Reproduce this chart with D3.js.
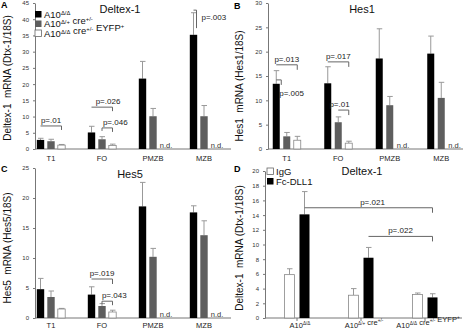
<!DOCTYPE html>
<html>
<head lang="en">
<meta charset="UTF-8">
<title></title>
<script src="https://cdn.jsdelivr.net/npm/d3@7/dist/d3.min.js"></script>
<style>
  body{margin:0;background:#fff;}
  text{font-family:"Liberation Sans",Arial,sans-serif;}
</style>
</head>
<body>
<script>
// categories
var cells = ["T1", "FO", "PMZB", "MZB"];
var dllGroups = [
    [["A10", "Δ/Δ"]],
    [["A10", "Δ/+"], [" cre", "+/-"]],
    [["A10", "Δ/Δ"], [" cre", "+/-"], [" EYFP", "+"]]
];
// legend labels
var genoLegend = dllGroups.map(function(d, i){ return i == 1 ? [["A10", "Δ/+"], [" cre", "+/-"]] : d; });
var dllLegend = [[["IgG", ""]], [["Fc-DLL1", ""]]];

// values: [black, grey, white] per cell, null = n.d.
var dtxMean = [[2.8, 2.4, 1.2], [5.1, 3.0, 1.1], [21.7, 10.1, null], [35.2, 10.1, null]];
var dtxErr  = [[3.3, 3.0, 1.4], [7.0, 3.8, 1.5], [27.0, 12.5, null], [42.0, 13.4, null]];
var hes1Mean = [[13.4, 2.6, 1.8], [13.5, 5.5, 1.2], [18.6, 9.0, null], [19.6, 10.5, null]];
var hes1Err  = [[16.1, 3.4, 2.6], [16.9, 6.6, 1.6], [24.7, 10.8, null], [23.2, 13.7, null]];
var hes5Mean = [[4.8, 3.5, 1.5], [3.9, 2.0, 1.0], [18.6, 10.2, null], [17.6, 13.8, null]];
var hes5Err  = [[6.6, 4.5, 1.6], [5.2, 2.4, 1.3], [22.6, 11.6, null], [18.7, 16.2, null]];
// panel D: [IgG, Fc-DLL1]
var dllMean = [[5.9, 14.1], [3.1, 8.2], [3.2, 2.8]];
var dllErr  = [[6.7, 17.2], [4.0, 9.6], [3.4, 3.3]];

// significance: [group1, bar1, group2, bar2, value, label]
var sigA = [[0,0,0,2,7.1,"p=.01"], [1,0,1,2,12.9,"p=.026"], [1,1,1,2,6.5,"p=.046"], [3,0,3,0,42.8,"p=.003"]];
var sigB = [[0,0,0,2,17.3,"p=.013"], [0,0,0,0,14.2,"p=.005"], [1,0,1,2,17.9,"p=.017"], [1,1,1,2,8.0,"p=.01"]];
var sigC = [[1,0,1,2,6.5,"p=.019"], [1,1,1,2,2.8,"p=.043"]];
var sigD = [[0,1,2,1,15.0,"p=.021"], [1,1,2,1,11.1,"p=.022"]];

var svg = d3.select("body").append("svg")
    .attr("width", 464)
    .attr("height", 331);

function richText(sel, parts){
    parts.forEach(function(p){
        sel.append("tspan").text(p[0]);
        if(p[1]){
            sel.append("tspan").attr("dy", -3).style("font-size", "0.62em").text(p[1]);
            sel.append("tspan").attr("dy", 3).text("");
        }
    });
}

function drawPanel(o){
    var g = svg.append("g");
    var x = d3.scaleBand().domain(d3.range(o.cats.length)).range(o.xr);
    var inner = d3.scaleBand().domain(d3.range(o.nb))
        .range([-o.step * o.nb / 2, o.step * o.nb / 2])
        .paddingInner(1 - o.bw / o.step).paddingOuter((1 - o.bw / o.step) / 2);
    var y = d3.scaleLinear().domain([0, o.ymax]).range([o.y0, o.y1]);
    var bx = function(gi, bi){ return x(gi) + x.bandwidth() / 2 + inner(bi); };

    // y axis
    var ya = g.append("g").attr("transform", "translate(" + o.ax + ",0)")
        .call(d3.axisLeft(y).tickValues(d3.range(0, o.ymax + 0.01, o.ystep)).tickSize(2).tickSizeOuter(0));
    ya.selectAll("text").style("font-size", "6px").attr("fill", "#333").attr("dx", "-1");
    ya.selectAll("line,path").attr("stroke", "#777");
    // baseline + ticks
    g.append("line").attr("x1", o.ax).attr("x2", o.axEnd).attr("y1", o.y0).attr("y2", o.y0)
        .attr("stroke", "#777");
    var xa = g.append("g").attr("transform", "translate(0," + o.y0 + ")")
        .call(d3.axisBottom(x).tickSize(o.xtick).tickSizeOuter(0).tickFormat(""));
    xa.select(".domain").remove();
    xa.selectAll("line").attr("stroke", "#777");

    // category labels
    o.cats.forEach(function(c, i){
        var t = g.append("text").attr("x", x(i) + x.bandwidth() / 2 + (o.labDx || 0)).attr("y", o.y0 + o.labY)
            .attr("text-anchor", "middle").style("font-size", "7.5px").attr("fill", "#222");
        if(typeof c == "string") t.text(c); else richText(t, c);
    });

    // bars
    o.means.forEach(function(row, gi){
        row.forEach(function(v, bi){
            var xx = bx(gi, bi);
            if(v === null){
                g.append("text").attr("x", xx).attr("y", o.y0 - 1).style("font-size", "7.5px")
                    .attr("fill", "#333").text("n.d.");
                return;
            }
            var e = o.errs[gi][bi];
            g.append("line").attr("x1", xx + inner.bandwidth() / 2).attr("x2", xx + inner.bandwidth() / 2)
                .attr("y1", y(v)).attr("y2", y(e)).attr("stroke", "#999");
            g.append("line").attr("x1", xx + inner.bandwidth() / 2 - 2.5).attr("x2", xx + inner.bandwidth() / 2 + 3)
                .attr("y1", y(e)).attr("y2", y(e)).attr("stroke", "#999");
            g.append("rect").attr("x", xx).attr("y", y(v))
                .attr("width", inner.bandwidth()).attr("height", o.y0 - y(v))
                .attr("fill", o.colors[bi])
                .attr("stroke", o.colors[bi] == "#fff" ? "#888" : "none")
                .attr("stroke-width", 0.8);
        });
    });

    // significance brackets
    o.sig.forEach(function(s, k){
        var x1 = bx(s[0], s[1]) + inner.bandwidth() / 2;
        var x2 = bx(s[2], s[3]) + inner.bandwidth() / 2;
        var st = o.sigStyle[k];
        if(st.x2) x2 += st.x2;
        var yy = y(s[4]);
        g.append("path")
            .attr("d", "M" + x1 + "," + (yy + (st.ldrop || 0)) + "V" + yy + "H" + x2 + "V" + (yy + st.drop))
            .attr("fill", "none").attr("stroke", "#666").attr("stroke-width", 1);
        g.append("text").attr("x", (st.anchor == "start" ? x2 : (x1 + x2) / 2) + (st.dx || 0))
            .attr("y", yy - 3 + (st.dy || 0))
            .attr("text-anchor", st.anchor || "middle")
            .style("font-size", "8px").attr("fill", "#222").text(s[5]);
    });

    // titles
    g.append("text").attr("x", o.lx).attr("y", o.ly).style("font-size", "9px")
        .style("font-weight", "bold").text(o.letter);
    g.append("text").attr("x", o.tx).attr("y", o.ty).attr("text-anchor", "middle")
        .style("font-size", "11px").attr("fill", "#111").text(o.title);
    g.append("text").attr("transform", "translate(" + o.ylx + "," + o.yly + ") rotate(-90)")
        .attr("text-anchor", "middle").style("font-size", "10px").style("white-space", "pre")
        .attr("fill", "#111").text(o.ylab);

    // legend
    if(o.legend){
        o.legend.forEach(function(l, i){
            var ly = o.legY + i * o.legStep;
            g.append("rect").attr("x", o.legX).attr("y", ly - 6).attr("width", 6.5).attr("height", 6.5)
                .attr("fill", o.legColors[i]).attr("stroke", o.legColors[i] == "#fff" ? "#666" : "none")
                .attr("stroke-width", 0.8);
            var t = g.append("text").attr("x", o.legX + 9).attr("y", ly + 0.5)
                .style("font-size", "9.5px").attr("fill", "#111");
            richText(t, l);
        });
    }
}

var geneColors = ["#000", "#5e5e5e", "#fff"];

drawPanel({letter: "A", lx: 1, ly: 8, title: "Deltex-1", tx: 120, ty: 13,
    ylab: "Deltex-1  mRNA (Dtx-1/18S)", ylx: 11, yly: 78,
    cats: cells, xr: [25.5, 229.5], nb: 3, step: 10.5, bw: 7.4, xtick: 0, labY: 12,
    ax: 35, axEnd: 231, y0: 149, y1: 3, ymax: 45, ystep: 5,
    means: dtxMean, errs: dtxErr, colors: geneColors, sig: sigA,
    sigStyle: [{drop: 4}, {drop: 4, dx: 6}, {drop: 4, ldrop: 3, dx: 8}, {drop: 18, x2: 3, anchor: "start", dx: 5, dy: 13}],
    legend: genoLegend, legColors: geneColors, legX: 35, legY: 17, legStep: 9.5});

drawPanel({letter: "B", lx: 234, ly: 9, title: "Hes1", tx: 362, ty: 13,
    ylab: "Hes1  mRNA (Hes1/18S)", ylx: 243, yly: 86,
    cats: cells, xr: [261, 467], nb: 3, step: 10.5, bw: 7, xtick: 0, labY: 12,
    ax: 268, axEnd: 463, y0: 149, y1: 3, ymax: 30, ystep: 5,
    means: hes1Mean, errs: hes1Err, colors: geneColors, sig: sigB,
    sigStyle: [{drop: 5}, {drop: 5, x2: 5, anchor: "start", dx: -2, dy: 19}, {drop: 5}, {drop: 5, dx: -4}]});

drawPanel({letter: "C", lx: 1, ly: 172, title: "Hes5", tx: 130, ty: 178,
    ylab: "Hes5  mRNA (Hes5/18S)", ylx: 11, yly: 248,
    cats: cells, xr: [25.5, 229.5], nb: 3, step: 10.5, bw: 7.4, xtick: 0, labY: 10,
    ax: 35, axEnd: 231, y0: 318, y1: 168, ymax: 25, ystep: 5,
    means: hes5Mean, errs: hes5Err, colors: geneColors, sig: sigC,
    sigStyle: [{drop: 5}, {drop: 4, ldrop: 3, dx: 7}]});

drawPanel({letter: "D", lx: 234, ly: 172, title: "Deltex-1", tx: 362, ty: 175,
    ylab: "Deltex-1  mRNA (Dtx-1/18S)", ylx: 243, yly: 248,
    cats: dllGroups, xr: [265, 457], nb: 2, step: 15, bw: 10, xtick: 3, labDx: 3, labY: 10,
    ax: 265, axEnd: 462, y0: 318, y1: 171, ymax: 20, ystep: 2,
    means: dllMean, errs: dllErr, colors: ["#fff", "#000"], sig: sigD,
    sigStyle: [{drop: 5, dx: 4}, {drop: 5}],
    legend: dllLegend, legColors: ["#fff", "#000"], legX: 267, legY: 174, legStep: 10});
</script>
</body>
</html>
